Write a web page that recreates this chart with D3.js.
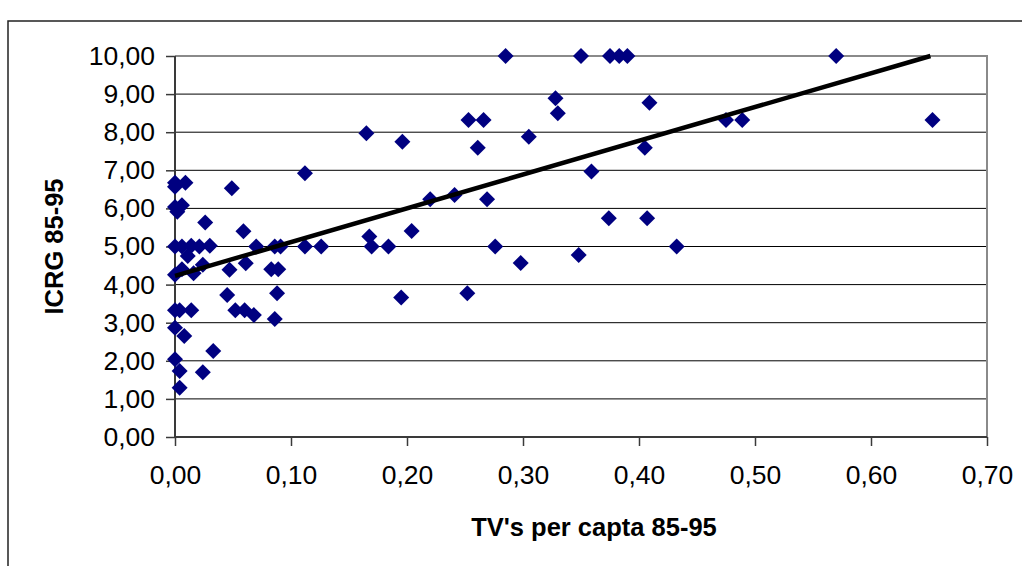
<!DOCTYPE html>
<html>
<head>
<meta charset="utf-8">
<script src="https://cdn.jsdelivr.net/npm/d3@7"></script>
<style>
  html, body { margin: 0; padding: 0; background: #fff; }
  svg { display: block; }
  text { font-family: "Liberation Sans", Arial, sans-serif; fill: #000; }
</style>
</head>
<body>
<svg id="chart" width="1022" height="566"></svg>
<script>
// TV's per capita (85-95) for each country
const tvPerCapita = [
  0.000, 0.000, 0.009, 0.000, 0.006, 0.002, 0.000, 0.006, 0.014, 0.021,
  0.030, 0.011, 0.000, 0.006, 0.016, 0.024, 0.026, 0.000, 0.004, 0.014,
  0.000, 0.008, 0.033, 0.000, 0.004, 0.024, 0.004, 0.049, 0.047, 0.045,
  0.052, 0.060, 0.068, 0.059, 0.061, 0.070, 0.086, 0.091, 0.083, 0.089,
  0.088, 0.086, 0.112, 0.112, 0.126, 0.165, 0.196, 0.1675, 0.1695, 0.184,
  0.195, 0.204, 0.220, 0.241, 0.252, 0.253, 0.266, 0.261, 0.269, 0.276,
  0.285, 0.298, 0.305, 0.328, 0.330, 0.348, 0.350, 0.359, 0.374, 0.375,
  0.383, 0.390, 0.405, 0.407, 0.409, 0.4325, 0.475, 0.489, 0.570, 0.653
];
// ICRG index (85-95) for the same countries
const icrg = [
  6.67, 6.57, 6.67, 6.04, 6.08, 5.91, 5.00, 5.00, 5.02, 5.00,
  5.02, 4.75, 4.26, 4.40, 4.30, 4.52, 5.63, 3.33, 3.33, 3.33,
  2.87, 2.65, 2.26, 2.04, 1.73, 1.70, 1.29, 6.53, 4.39, 3.73,
  3.33, 3.33, 3.20, 5.40, 4.56, 5.00, 5.00, 5.00, 4.40, 4.40,
  3.77, 3.10, 6.92, 5.00, 5.00, 7.97, 7.75, 5.26, 5.00, 5.00,
  3.66, 5.41, 6.24, 6.35, 3.77, 8.32, 8.32, 7.59, 6.24, 5.00,
  10.00, 4.57, 7.88, 8.89, 8.50, 4.78, 10.00, 6.97, 5.74, 10.00,
  10.00, 10.00, 7.59, 5.74, 8.77, 5.00, 8.32, 8.32, 10.00, 8.32
];
// Linear trend line: ICRG = intercept + slope * TV
const trendIntercept = 4.23;
const trendSlope = 8.86;

const xTicks = [0, 0.1, 0.2, 0.3, 0.4, 0.5, 0.6, 0.7];
const yTicks = [0, 1, 2, 3, 4, 5, 6, 7, 8, 9, 10];
const xTitle = "TV's per capta 85-95";
const yTitle = "ICRG 85-95";

const svg = d3.select("#chart");
const plot = { left: 175, right: 987, top: 56, bottom: 437 };

const x = d3.scaleLinear().domain([0, 0.7]).range([plot.left, plot.right]);
const y = d3.scaleLinear().domain([0, 10]).range([plot.bottom, plot.top]);
const fmt = v => d3.format(".2f")(v).replace(".", ",");

// outer chart frame (runs off the right and bottom edges)
svg.append("path")
  .attr("d", `M8,566 L8,21 L1022,21`)
  .attr("fill", "none").attr("stroke", "#222").attr("stroke-width", 1.5);

// horizontal gridlines
svg.append("g").selectAll("line")
  .data(yTicks.filter(v => v > 0 && v < 10))
  .join("line")
  .attr("x1", plot.left).attr("x2", plot.right)
  .attr("y1", d => y(d)).attr("y2", d => y(d))
  .attr("stroke", "#000").attr("stroke-width", 1);

// plot area border on top and right
svg.append("path")
  .attr("d", `M${plot.left},${y(10)} L${plot.right},${y(10)} L${plot.right},${plot.bottom}`)
  .attr("fill", "none").attr("stroke", "#8a8a8a").attr("stroke-width", 2);

// y axis
const yAxis = svg.append("g")
  .attr("transform", `translate(${plot.left},0)`)
  .call(d3.axisLeft(y).tickValues(yTicks).tickFormat(fmt).tickSize(9).tickPadding(11));
// x axis
const xAxis = svg.append("g")
  .attr("transform", `translate(0,${plot.bottom})`)
  .call(d3.axisBottom(x).tickValues(xTicks).tickFormat(fmt).tickSize(9).tickPadding(19));

[yAxis, xAxis].forEach(g => {
  g.select(".domain").attr("stroke", "#3a3a3a").attr("stroke-width", 2);
  g.selectAll(".tick line").attr("stroke", "#3a3a3a").attr("stroke-width", 1.5);
  g.selectAll(".tick text")
    .attr("font-family", "Liberation Sans, Arial, sans-serif")
    .attr("font-size", 26.5).attr("fill", "#000");
});
yAxis.select(".domain").attr("d", `M0,${plot.bottom}V${plot.top}`);
xAxis.select(".domain").attr("d", `M${plot.left},0H${plot.right}`);

// data points as navy diamonds
const pts = tvPerCapita.map((v, i) => ({ tv: v, icrg: icrg[i] }));
const r = 8;
svg.append("g").selectAll("path")
  .data(pts)
  .join("path")
  .attr("transform", d => `translate(${x(d.tv)},${y(d.icrg)})`)
  .attr("d", `M0,${-r}L${r},0L0,${r}L${-r},0Z`)
  .attr("fill", "#000080");

// trend line, clipped at the top of the value axis
const xEnd = Math.min(0.7, (10 - trendIntercept) / trendSlope);
svg.append("line")
  .attr("x1", x(0)).attr("y1", y(trendIntercept))
  .attr("x2", x(xEnd)).attr("y2", y(trendIntercept + trendSlope * xEnd))
  .attr("stroke", "#000").attr("stroke-width", 4.5);

// axis titles
svg.append("text")
  .attr("x", 594).attr("y", 536)
  .attr("text-anchor", "middle")
  .attr("font-size", 25.5).attr("font-weight", "bold")
  .text(xTitle);
svg.append("text")
  .attr("transform", `translate(63,${(plot.top + plot.bottom) / 2}) rotate(-90)`)
  .attr("text-anchor", "middle")
  .attr("font-size", 25.5).attr("font-weight", "bold")
  .text(yTitle);
</script>
</body>
</html>
